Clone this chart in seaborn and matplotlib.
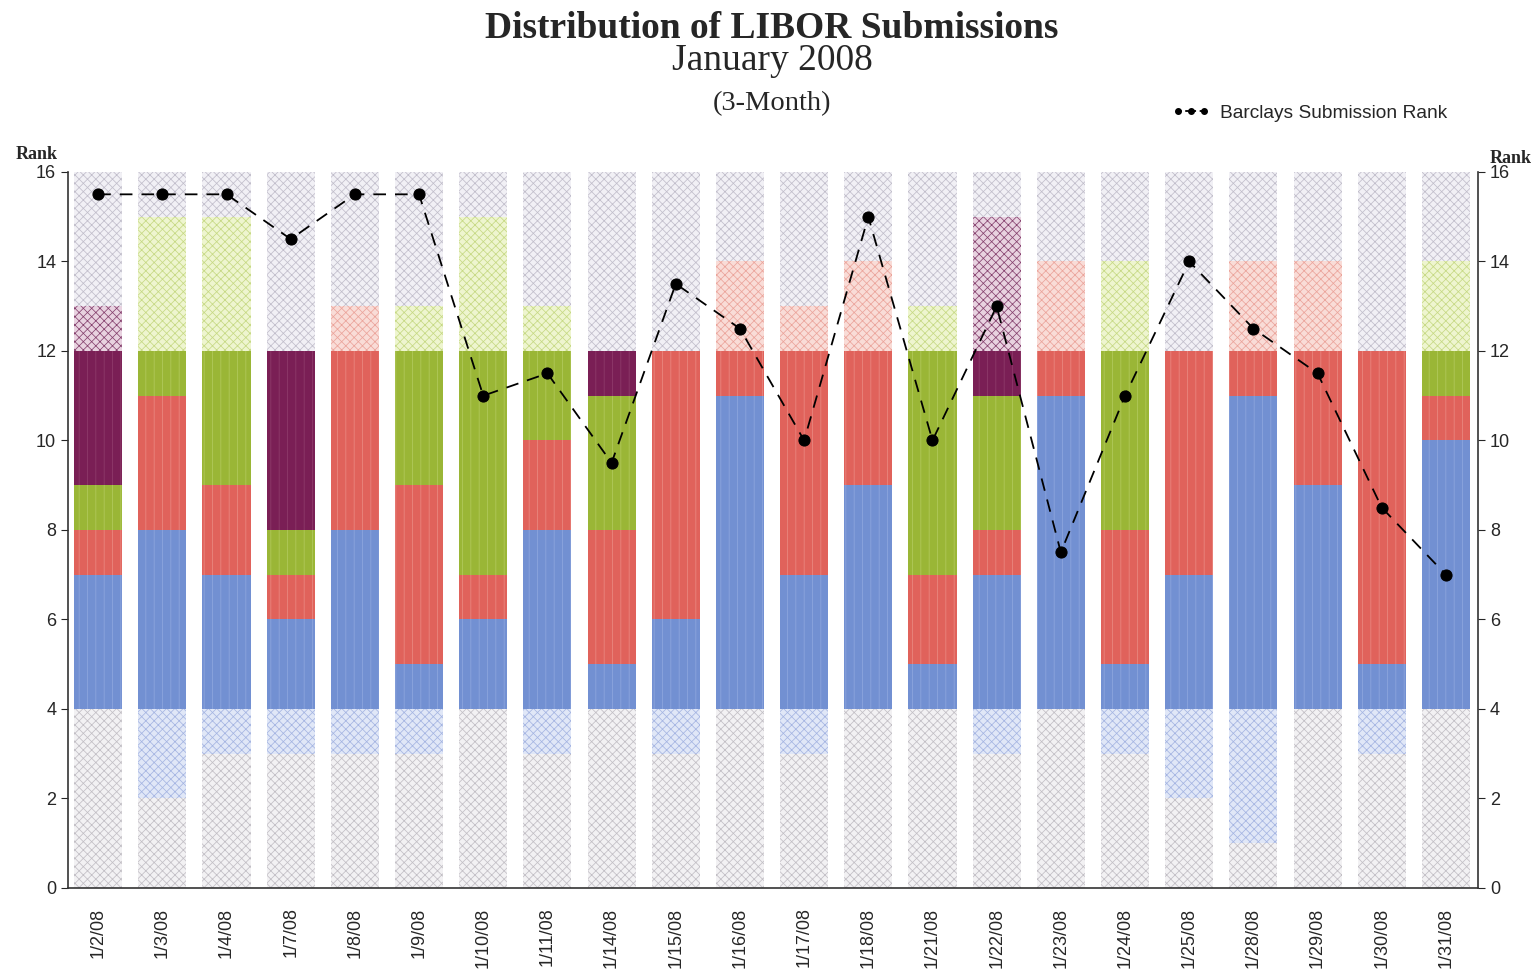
import numpy as np
import seaborn as sns
import matplotlib.pyplot as plt
from matplotlib.lines import Line2D

# Dates of the LIBOR fixings
dates = ["1/2/08", "1/3/08", "1/4/08", "1/7/08", "1/8/08", "1/9/08", "1/10/08",
         "1/11/08", "1/14/08", "1/15/08", "1/16/08", "1/17/08", "1/18/08", "1/21/08",
         "1/22/08", "1/23/08", "1/24/08", "1/25/08", "1/28/08", "1/29/08", "1/30/08",
         "1/31/08"]

# Cumulative rank at the top of each rate group (bottom to top)
grey_top = [4, 2, 3, 3, 3, 3, 4, 3, 4, 3, 4, 3, 4, 4, 3, 4, 3, 2, 1, 4, 3, 4]
blue_top = [7, 8, 7, 6, 8, 5, 6, 8, 5, 6, 11, 7, 9, 5, 7, 11, 5, 7, 11, 9, 5, 10]
red_top = [8, 11, 9, 7, 13, 9, 7, 10, 8, 12, 14, 13, 14, 7, 8, 14, 8, 12, 14, 14, 12, 11]
green_top = [9, 15, 15, 8, 13, 13, 15, 13, 11, 12, 14, 13, 14, 13, 11, 14, 14, 12, 14, 14, 12, 14]
purple_top = [13, 15, 15, 12, 13, 13, 15, 13, 12, 12, 14, 13, 14, 13, 15, 14, 14, 12, 14, 14, 12, 14]
top_grey_top = [16] * 22

# Barclays submission rank
barclays = [15.5, 15.5, 15.5, 14.5, 15.5, 15.5, 11, 11.5, 9.5, 13.5, 12.5, 10, 15,
            10, 13, 7.5, 11, 14, 12.5, 11.5, 8.5, 7]

sns.set_style("ticks")
plt.rcParams['hatch.linewidth'] = 0.55

solid = {"grey": "#d8d6dc", "blue": "#7290d2", "red": "#e0625b",
         "green": "#9ab636", "purple": "#7a1f55", "topgrey": "#dedce6"}
stripe = {"grey": "#e6e4ea", "blue": "#8ea7de", "red": "#ea8a82",
          "green": "#b2ca5e", "purple": "#8f3d6c", "topgrey": "#e6e4ea"}
light = {"grey": "#f2f1f3", "blue": "#e0e7f7", "red": "#f9dcd7",
         "green": "#eef5cf", "purple": "#e8d2e0", "topgrey": "#f1f0f5"}
hatchc = {"grey": "#c2bfc5", "blue": "#a5b5e2", "red": "#eba49b",
          "green": "#c6d984", "purple": "#86426f", "topgrey": "#c1becb"}

layers = [("grey", grey_top), ("blue", blue_top), ("red", red_top),
          ("green", green_top), ("purple", purple_top), ("topgrey", top_grey_top)]

fig = plt.figure(figsize=(15.38, 9.77), dpi=100)
ax = fig.add_axes([0.0442, 0.0911, 0.9168, 0.7329])

x = np.arange(len(dates))
prev = np.zeros(len(dates))
for name, top in layers:
    top = np.array(top, dtype=float)
    for lo_cut, hi_cut, kind in [(0, 4, "light"), (4, 12, "solid"), (12, 16, "light")]:
        lo = np.clip(prev, lo_cut, hi_cut)
        hi = np.clip(top, lo_cut, hi_cut)
        h = hi - lo
        m = h > 0
        if not m.any():
            continue
        if kind == "solid":
            ax.bar(x[m], h[m], bottom=lo[m], width=0.75, color=solid[name],
                   edgecolor=stripe[name], hatch="||", linewidth=0)
        else:
            ax.bar(x[m], h[m], bottom=lo[m], width=0.75, color=light[name],
                   edgecolor=hatchc[name], hatch="xxxx", linewidth=0)
    prev = top

sns.lineplot(x=x, y=barclays, ax=ax, color="black", linestyle=(0, (7, 5)),
             linewidth=1.3, marker="o", markersize=8, markeredgecolor="black",
             sort=False, legend=False)

ax.set_xlim(-0.47, 21.5)
ax.set_ylim(0, 16)
ax.set_yticks(range(0, 17, 2))
ax.set_xticks(x, dates, rotation=90, fontsize=13, fontfamily="Liberation Sans")
ax.tick_params(axis="x", length=0, pad=14)
ax.tick_params(axis="y", labelsize=13, right=True, labelright=True, length=5,
               direction="out")
for lab in ax.get_yticklabels():
    lab.set_fontfamily("Liberation Sans")
sns.despine(ax=ax, top=True, right=False)
for s in ["left", "right", "bottom"]:
    ax.spines[s].set_color("#333333")
    ax.spines[s].set_linewidth(1.2)
ax.set_xlabel("")
ax.set_ylabel("")

serif = "Liberation Serif"
fig.text(0.024, 0.842, "Rank", fontsize=13, fontweight="bold", family=serif,
         ha="center", va="center")
fig.text(0.9825, 0.838, "Rank", fontsize=13, fontweight="bold", family=serif,
         ha="center", va="center")
fig.text(0.502, 0.961, "Distribution of LIBOR Submissions", fontsize=27,
         fontweight="bold", family=serif, ha="center", va="baseline")
fig.text(0.502, 0.928, "January 2008", fontsize=27, family=serif,
         ha="center", va="baseline")
fig.text(0.502, 0.894, "(3-Month)", fontsize=20.5, family=serif,
         ha="center", va="center")

handle = Line2D([], [], color="black", linestyle=(0, (2, 2)), linewidth=1.3,
                marker="o", markersize=4)
fig.legend([handle], ["Barclays Submission Rank"], loc="center right",
           bbox_to_anchor=(0.952, 0.884), frameon=False, numpoints=3,
           handlelength=2.0, handletextpad=0.5,
           prop={"family": "Liberation Sans", "size": 13.8})

fig.savefig("out.png", dpi=100, facecolor="white")
